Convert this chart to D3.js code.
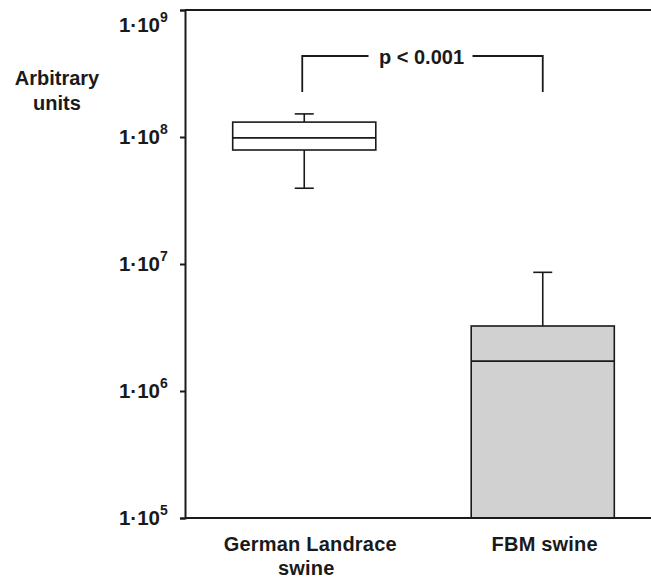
<!DOCTYPE html>
<html>
<head>
<meta charset="utf-8">
<script src="https://cdn.jsdelivr.net/npm/d3@7"></script>
<style>
  body { margin: 0; background: #fff; }
  text { font-family: "Liberation Sans", Arial, Helvetica, sans-serif; font-weight: bold; fill: #1a1a1a; }
</style>
</head>
<body>
<svg id="boxPlot"></svg>
<script>
// groups and box statistics
const groups = ["German Landrace swine", "FBM swine"];
const whiskerHigh = [1.52e8, 8.6e6];
const q3 = [1.31e8, 3.25e6];
const median = [0.985e8, 1.72e6];
const q1 = [7.9e7, 1e5];
const whiskerLow = [3.95e7, null]; // FBM lower part is hidden below the axis
const fills = ["#ffffff", "#d1d1d1"];

const tickValues = [1e5, 1e6, 1e7, 1e8, 1e9];
const tickExponents = ["5", "6", "7", "8", "9"];

const groupLines = [["German Landrace", "swine"], ["FBM swine"]];
const pLabel = "p < 0.001";

const size = { width: 651, height: 580 };
const margin = { top: 10, bottom: 62, left: 185, right: 0 };
const ink = "#1a1a1a";

const svg = d3.select("#boxPlot").attr("width", size.width).attr("height", size.height);

const y = d3
  .scaleLog()
  .domain([1e5, 1e9])
  .range([size.height - margin.bottom, margin.top]);

const x = d3
  .scaleBand()
  .domain(groups)
  .range([margin.left, 662])
  .paddingInner(0.4)
  .paddingOuter(0.2);

// boxes
const boxes = svg.append("g");
groups.forEach((g, i) => {
  const x0 = x(g);
  const bw = x.bandwidth();
  const cx = x0 + bw / 2;
  const capW = 19;

  boxes
    .append("line")
    .attr("x1", cx)
    .attr("x2", cx)
    .attr("y1", y(whiskerHigh[i]))
    .attr("y2", y(q3[i]))
    .attr("stroke", ink)
    .attr("stroke-width", 1.6);
  boxes
    .append("line")
    .attr("x1", cx - capW / 2)
    .attr("x2", cx + capW / 2)
    .attr("y1", y(whiskerHigh[i]))
    .attr("y2", y(whiskerHigh[i]))
    .attr("stroke", ink)
    .attr("stroke-width", 1.6);

  if (whiskerLow[i] !== null) {
    boxes
      .append("line")
      .attr("x1", cx)
      .attr("x2", cx)
      .attr("y1", y(q1[i]))
      .attr("y2", y(whiskerLow[i]))
      .attr("stroke", ink)
      .attr("stroke-width", 1.6);
    boxes
      .append("line")
      .attr("x1", cx - capW / 2)
      .attr("x2", cx + capW / 2)
      .attr("y1", y(whiskerLow[i]))
      .attr("y2", y(whiskerLow[i]))
      .attr("stroke", ink)
      .attr("stroke-width", 1.6);
  }

  boxes
    .append("rect")
    .attr("x", x0)
    .attr("y", y(q3[i]))
    .attr("width", bw)
    .attr("height", y(q1[i]) - y(q3[i]))
    .attr("fill", fills[i])
    .attr("stroke", ink)
    .attr("stroke-width", 1.6);

  boxes
    .append("line")
    .attr("x1", x0)
    .attr("x2", x0 + bw)
    .attr("y1", y(median[i]))
    .attr("y2", y(median[i]))
    .attr("stroke", ink)
    .attr("stroke-width", 1.6);
});

// axes
const axisG = svg
  .append("g")
  .attr("transform", `translate(${margin.left},0)`)
  .call(d3.axisLeft(y).tickValues(tickValues).tickSize(5).tickFormat(""));
axisG.select(".domain").attr("stroke", ink).attr("stroke-width", 2);
axisG.selectAll(".tick line").attr("stroke", ink).attr("stroke-width", 2);

svg
  .append("line")
  .attr("x1", margin.left)
  .attr("x2", size.width)
  .attr("y1", y(1e5))
  .attr("y2", y(1e5))
  .attr("stroke", ink)
  .attr("stroke-width", 2);

svg
  .append("line")
  .attr("x1", margin.left)
  .attr("x2", size.width)
  .attr("y1", y(1e9))
  .attr("y2", y(1e9))
  .attr("stroke", ink)
  .attr("stroke-width", 2);

// tick labels with superscripts
tickValues.forEach((v, i) => {
  const ty = Math.max(y(v) + 7, 32);
  svg
    .append("text")
    .attr("x", 160)
    .attr("y", ty)
    .attr("text-anchor", "end")
    .style("font-size", "20.5px")
    .text("1·10");
  svg
    .append("text")
    .attr("x", 160)
    .attr("y", ty - 10)
    .style("font-size", "14px")
    .text(tickExponents[i]);
});

// y title
["Arbitrary", "units"].forEach((line, i) => {
  svg
    .append("text")
    .attr("x", 57)
    .attr("y", 85 + i * 25)
    .attr("text-anchor", "middle")
    .style("font-size", "20px")
    .text(line);
});

// category labels
groups.forEach((g, i) => {
  groupLines[i].forEach((line, j) => {
    svg
      .append("text")
      .attr("x", x(g) + x.bandwidth() / 2 + (i === 0 && j === 0 ? 6 : 2))
      .attr("y", 551 + j * 24)
      .attr("text-anchor", "middle")
      .style("font-size", "20px")
      .style("letter-spacing", "0.2px")
      .text(line);
  });
});

// significance bracket
const cxA = x(groups[0]) + x.bandwidth() / 2 - 2;
const cxB = x(groups[1]) + x.bandwidth() / 2;
const bracketY = 56;
const bracketBottom = 92;
const midX = (cxA + cxB) / 2 - 1;

svg
  .append("path")
  .attr("d", `M${cxA},${bracketBottom}V${bracketY}H${midX - 53}`)
  .attr("fill", "none")
  .attr("stroke", ink)
  .attr("stroke-width", 1.8);
svg
  .append("path")
  .attr("d", `M${midX + 51},${bracketY}H${cxB}V${bracketBottom}`)
  .attr("fill", "none")
  .attr("stroke", ink)
  .attr("stroke-width", 1.8);
svg
  .append("text")
  .attr("x", midX)
  .attr("y", 64)
  .attr("text-anchor", "middle")
  .style("font-size", "20px")
  .text(pLabel);
</script>
</body>
</html>
